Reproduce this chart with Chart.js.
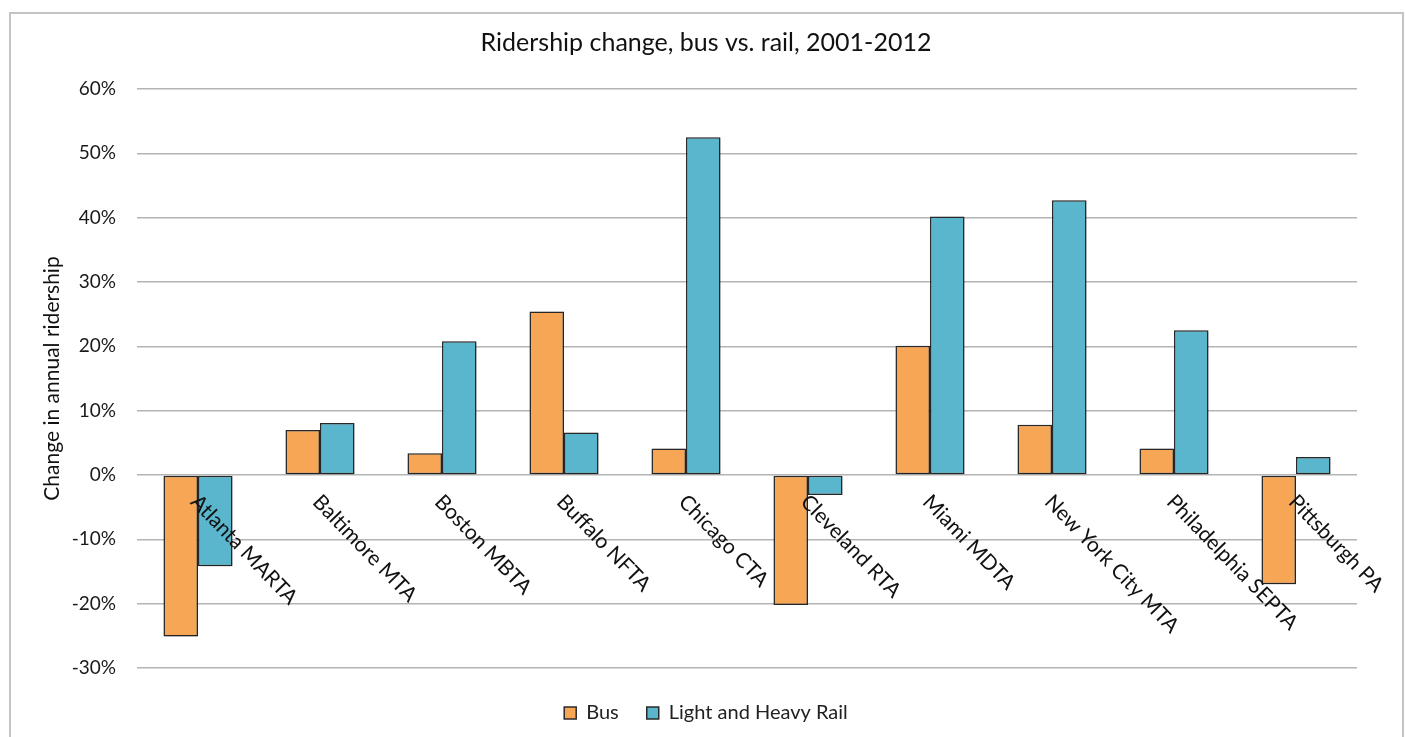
<!DOCTYPE html>
<html>
<head>
<meta charset="utf-8">
<script src="https://cdn.jsdelivr.net/npm/chart.js@4"></script>
<style>
  html, body { margin: 0; padding: 0; background: #fff; overflow: hidden; }
  #wrap { position: relative; width: 1406px; height: 737px; }
  #frame { position: absolute; left: 9px; top: 12px; width: 1395px; height: 800px; border: 2px solid #c4c4c4; box-sizing: border-box; }
  #grafico { position: absolute; left: 0; top: 0; }
</style>
</head>
<body>
<div id="wrap">
  <div id="frame"></div>
  <canvas id="grafico" width="1406" height="737"></canvas>
</div>
<script>
const categories = ['Atlanta MARTA', 'Baltimore MTA', 'Boston MBTA', 'Buffalo NFTA', 'Chicago CTA',
  'Cleveland RTA', 'Miami MDTA', 'New York City MTA', 'Philadelphia SEPTA', 'Pittsburgh PA'];
const bus = [-25.1, 7.0, 3.4, 25.4, 4.1, -20.2, 20.1, 7.8, 4.1, -17.0];
const rail = [-14.2, 8.1, 20.8, 6.6, 52.5, -3.1, 40.2, 42.7, 22.5, 2.8];
const yMin = -30;
const yMax = 60;
const yStep = 10;

const fonte = 'Lato';

// sombra leve nas barras
const sombra = {
  id: 'sombra',
  beforeDatasetsDraw(chart) {
    const ctx = chart.ctx;
    ctx.save();
    ctx.shadowColor = 'rgba(0,0,0,0.3)';
    ctx.shadowBlur = 3;
    ctx.shadowOffsetX = 1;
    ctx.shadowOffsetY = 1;
  },
  afterDatasetsDraw(chart) {
    chart.ctx.restore();
  }
};

// rotulos inclinados junto da linha do zero
const rotulos = {
  id: 'rotulos',
  afterDatasetsDraw(chart) {
    const {ctx, scales: {x, y}} = chart;
    const y0 = y.getPixelForValue(0);
    ctx.save();
    ctx.font = '21px ' + fonte;
    ctx.fillStyle = '#111';
    ctx.textAlign = 'left';
    ctx.textBaseline = 'top';
    categories.forEach((nome, i) => {
      const px = x.getPixelForValue(i);
      ctx.save();
      ctx.translate(px + 4, y0 + 16);
      ctx.rotate(46 * Math.PI / 180);
      ctx.fillText(nome, 0, 0);
      ctx.restore();
    });
    ctx.restore();
  }
};

new Chart(document.getElementById('grafico'), {
  type: 'bar',
  data: {
    labels: categories,
    datasets: [
      {
        label: 'Bus',
        data: bus,
        backgroundColor: '#F7A656',
        borderColor: '#2a2a2a',
        borderWidth: 1.5,
        borderSkipped: false
      },
      {
        label: 'Light and Heavy Rail',
        data: rail,
        backgroundColor: '#5AB6CD',
        borderColor: '#2a2a2a',
        borderWidth: 1.5,
        borderSkipped: false
      }
    ]
  },
  options: {
    responsive: false,
    animation: false,
    layout: { padding: { left: 55, right: 49, top: 0, bottom: 4 } },
    datasets: {
      bar: { categoryPercentage: 0.566, barPercentage: 1 }
    },
    plugins: {
      title: {
        display: true,
        text: 'Ridership change, bus vs. rail, 2001-2012',
        color: '#111',
        font: { family: fonte, size: 25, weight: 'normal' },
        padding: { top: 28, bottom: 31 }
      },
      legend: {
        position: 'bottom',
        labels: {
          color: '#222',
          font: { family: fonte, size: 20 },
          boxWidth: 12,
          boxHeight: 12,
          padding: 28
        }
      },
      tooltip: { enabled: false }
    },
    scales: {
      x: {
        ticks: { display: false },
        grid: { display: false },
        border: { display: false },
        afterFit(scale) { scale.height = 7; }
      },
      y: {
        min: yMin,
        max: yMax,
        ticks: {
          stepSize: yStep,
          color: '#1a1a1a',
          padding: 21,
          font: { family: fonte, size: 19 },
          callback: v => v + '%'
        },
        grid: { color: '#b4b4b4', lineWidth: 1.5, drawTicks: false },
        border: { display: false },
        title: {
          display: true,
          text: 'Change in annual ridership',
          color: '#111',
          font: { family: fonte, size: 21 },
          padding: { top: -15.6, bottom: 0 }
        },
        afterFit(scale) { scale.width = 82; }
      }
    }
  },
  plugins: [sombra, rotulos]
});
</script>
</body>
</html>
